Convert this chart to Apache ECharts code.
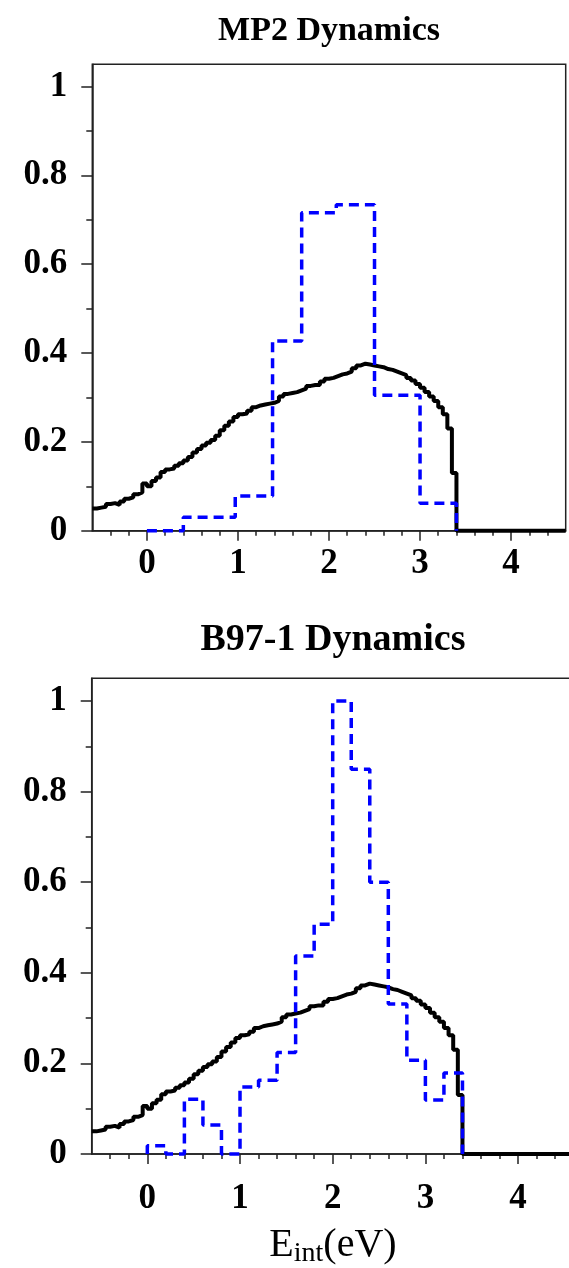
<!DOCTYPE html>
<html>
<head>
<meta charset="utf-8">
<script src="https://cdn.jsdelivr.net/npm/echarts@6/dist/echarts.min.js"></script>
<style>
  html, body { margin: 0; padding: 0; background: #fff; overflow: hidden; }
  #chart { width: 600px; height: 1268px; }
</style>
</head>
<body>
<div id="chart"></div>
<script>
// reference distribution (black), bins of 0.05 eV starting at -0.6
const refStart = -0.6;
const refBin = 0.05;
const refValues = [
  0.050, 0.052, 0.054, 0.060, 0.062, 0.058, 0.066, 0.072, 0.075, 0.082,
  0.086, 0.106, 0.100, 0.112, 0.120, 0.132, 0.138, 0.140, 0.146, 0.152,
  0.158, 0.166, 0.176, 0.184, 0.192, 0.198, 0.204, 0.214, 0.226, 0.236,
  0.246, 0.256, 0.262, 0.264, 0.270, 0.278, 0.282, 0.284, 0.286, 0.288,
  0.292, 0.302, 0.308, 0.310, 0.312, 0.316, 0.320, 0.326, 0.328, 0.328,
  0.336, 0.342, 0.344, 0.348, 0.352, 0.354, 0.358, 0.366, 0.372, 0.376,
  0.374, 0.372, 0.370, 0.368, 0.364, 0.362, 0.358, 0.354, 0.350, 0.344,
  0.338, 0.330, 0.322, 0.312, 0.302, 0.292, 0.278, 0.262, 0.230, 0.130
];
const refTailEnd = 4.6;

// MP2 dynamics histogram (blue dashed)
const mp2Edges = [0, 0.4, 0.97, 1.38, 1.70, 2.08, 2.50, 3.00, 3.40];
const mp2Values = [0, 0.030, 0.078, 0.427, 0.716, 0.734, 0.305, 0.062];

// B97-1 dynamics histogram (blue dashed), 0.2 eV bins
const b97Edges = [0, 0.2, 0.4, 0.6, 0.8, 1.0, 1.2, 1.4, 1.6, 1.8, 2.0, 2.2, 2.4, 2.6, 2.8, 3.0, 3.2, 3.4];
const b97Values = [0.018, 0, 0.121, 0.064, 0, 0.148, 0.163, 0.224, 0.437, 0.507, 1.0, 0.849, 0.600, 0.331, 0.207, 0.119, 0.179];

const xMajorTicks = [0, 1, 2, 3, 4];
const xMinorTicks = [-0.4, -0.2, 0.2, 0.4, 0.6, 0.8, 1.2, 1.4, 1.6, 1.8, 2.2, 2.4, 2.6, 2.8, 3.2, 3.4, 3.6, 3.8, 4.2, 4.4];
const yMajorTicks = [0, 0.2, 0.4, 0.6, 0.8, 1];
const yMinorTicks = [0.1, 0.3, 0.5, 0.7, 0.9];

const titles = ['MP2 Dynamics', 'B97-1 Dynamics'];

function refPoints() {
  const pts = refValues.map((v, i) => [+(refStart + i * refBin).toFixed(2), v]);
  const end = +(refStart + refValues.length * refBin).toFixed(2);
  pts.push([end, 0]);
  pts.push([refTailEnd, 0]);
  return pts;
}

function histPoints(edges, values) {
  const pts = [[edges[0], 0]];
  values.forEach((v, i) => pts.push([edges[i], v]));
  pts.push([edges[edges.length - 1], 0]);
  return pts;
}

const serif = '"Liberation Serif", "Times New Roman", serif';
const axisColor = '#222';

function xAxes(gridIndex) {
  return [
    {
      type: 'value', gridIndex, min: -0.6, max: 4.6, position: 'bottom',
      axisLine: { show: true, onZero: false, lineStyle: { color: axisColor, width: 1.5 } },
      axisTick: { show: true, customValues: xMajorTicks, length: 10, lineStyle: { color: axisColor, width: 1.5 } },
      axisLabel: {
        customValues: xMajorTicks, margin: gridIndex === 0 ? 16 : 27,
        color: '#000', fontFamily: serif, fontWeight: 'bold', fontSize: 35
      },
      splitLine: { show: false }
    },
    {
      type: 'value', gridIndex, min: -0.6, max: 4.6, position: 'bottom', offset: 0,
      axisLine: { show: false, onZero: false },
      axisTick: { show: true, customValues: xMinorTicks, length: 5, lineStyle: { color: axisColor, width: 1.5 } },
      axisLabel: { show: false },
      splitLine: { show: false }
    }
  ];
}

function yAxes(gridIndex) {
  return [
    {
      type: 'value', gridIndex, min: 0, max: 1.05, position: 'left',
      axisLine: { show: true, onZero: false, lineStyle: { color: axisColor, width: 1.5 } },
      axisTick: { show: true, customValues: yMajorTicks, length: 11, lineStyle: { color: axisColor, width: 1.5 } },
      axisLabel: {
        customValues: yMajorTicks, margin: 25,
        color: '#000', fontFamily: serif, fontWeight: 'bold', fontSize: 35
      },
      splitLine: { show: false }
    },
    {
      type: 'value', gridIndex, min: 0, max: 1.05, position: 'left', offset: 0,
      axisLine: { show: false, onZero: false },
      axisTick: { show: true, customValues: yMinorTicks, length: 6, lineStyle: { color: axisColor, width: 1.5 } },
      axisLabel: { show: false },
      splitLine: { show: false }
    }
  ];
}

function refSeries(axisBase) {
  return {
    type: 'line', step: 'end', xAxisIndex: axisBase, yAxisIndex: axisBase,
    data: refPoints(), symbol: 'none', clip: false, z: 3,
    lineStyle: { color: '#000', width: 4 }
  };
}

function blueSeries(axisBase, edges, values) {
  return {
    type: 'line', step: 'end', xAxisIndex: axisBase, yAxisIndex: axisBase,
    data: histPoints(edges, values), symbol: 'none', clip: false, z: 4,
    lineStyle: { color: '#0000ff', width: 3.5, type: [10, 6] }
  };
}

const chart = echarts.init(document.getElementById('chart'), null, { renderer: 'canvas' });
chart.setOption({
  animation: false,
  backgroundColor: '#fff',
  grid: [
    { left: 92.3, right: 34.3, top: 64.3, height: 466.4, show: true, borderColor: axisColor, borderWidth: 1.5, backgroundColor: 'transparent' },
    { left: 91.7, right: 26.3, top: 678.3, height: 475.7, show: true, borderColor: axisColor, borderWidth: 1.5, backgroundColor: 'transparent' }
  ],
  xAxis: [...xAxes(0), ...xAxes(1)],
  yAxis: [...yAxes(0), ...yAxes(1)],
  series: [
    refSeries(0),
    blueSeries(0, mp2Edges, mp2Values),
    refSeries(2),
    blueSeries(2, b97Edges, b97Values)
  ],
  graphic: [
    {
      type: 'text', x: 329, y: 31,
      style: { text: titles[0], font: 'bold 34px ' + serif, fill: '#000', align: 'center', verticalAlign: 'middle' }
    },
    {
      type: 'text', x: 333, y: 640,
      style: { text: titles[1], font: 'bold 38px ' + serif, fill: '#000', align: 'center', verticalAlign: 'middle' }
    },
    {
      type: 'text', x: 333, y: 1245,
      style: {
        text: '{a|E}{b|int}{a|(eV)}',
        align: 'center', verticalAlign: 'middle',
        rich: {
          a: { fontFamily: serif, fontSize: 40, fill: '#000', lineHeight: 46, verticalAlign: 'middle' },
          b: { fontFamily: serif, fontSize: 28, fill: '#000', lineHeight: 46, verticalAlign: 'bottom', padding: [15, 0, 0, 0] }
        }
      }
    }
  ]
});
</script>
</body>
</html>
